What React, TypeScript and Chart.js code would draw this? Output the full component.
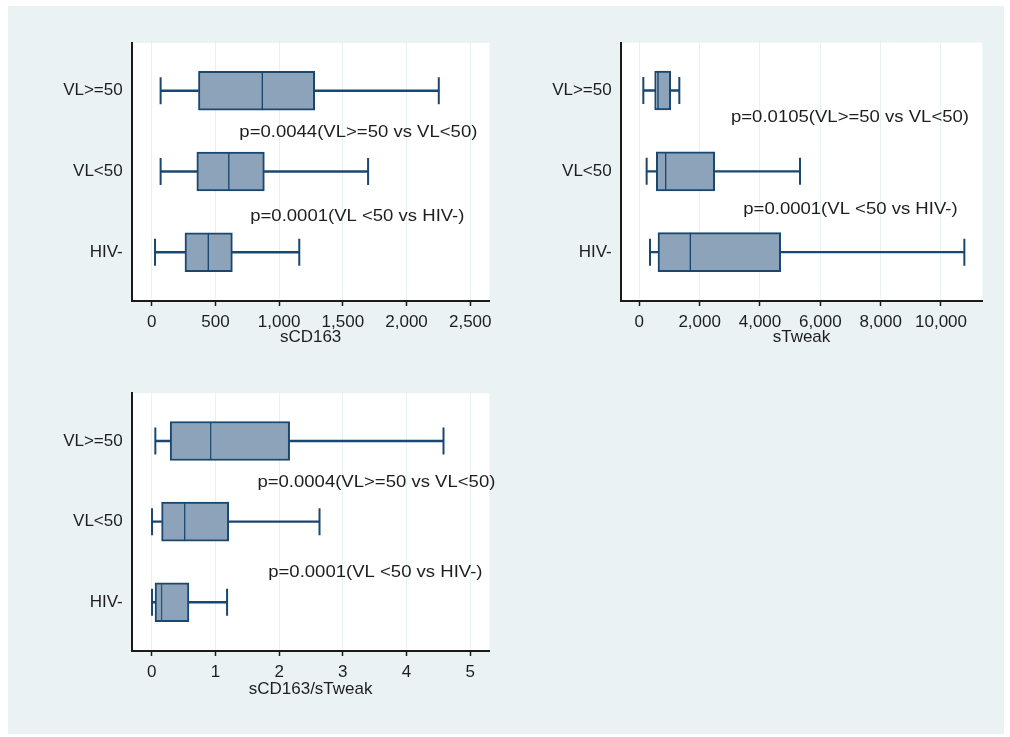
import React, { useEffect, useRef } from 'react';
import { Chart, registerables } from 'chart.js';

Chart.register(...registerables);

// ---------- data ----------
const categories = ['VL>=50', 'VL<50', 'HIV-'];

const sCD163Min = [70, 70, 26];
const sCD163Q1 = [367, 354, 261];
const sCD163Median = [868, 605, 444];
const sCD163Q3 = [1279, 884, 633];
const sCD163Max = [2253, 1698, 1158];
const sCD163Ticks = [0, 500, 1000, 1500, 2000, 2500];
const sCD163Notes = ['p=0.0044(VL>=50 vs VL<50)', 'p=0.0001(VL <50 vs HIV-)'];

const sTweakMin = [133, 243, 354];
const sTweakQ1 = [508, 564, 619];
const sTweakMedian = [619, 873, 1691];
const sTweakQ3 = [1039, 2497, 4685];
const sTweakMax = [1326, 5326, 10774];
const sTweakTicks = [0, 2000, 4000, 6000, 8000, 10000];
const sTweakNotes = ['p=0.0105(VL>=50 vs VL<50)', 'p=0.0001(VL <50 vs HIV-)'];

const ratioMin = [0.057, 0.005, 0.005];
const ratioQ1 = [0.29, 0.155, 0.052];
const ratioMedian = [0.925, 0.517, 0.155];
const ratioQ3 = [2.165, 1.209, 0.584];
const ratioMax = [4.58, 2.634, 1.183];
const ratioTicks = [0, 1, 2, 3, 4, 5];
const ratioNotes = ['p=0.0004(VL>=50 vs VL<50)', 'p=0.0001(VL <50 vs HIV-)'];

// ---------- style ----------
const NAVY = '#1a476f';
const FILL = '#8da3ba';
const AXIS = '#1a1a1a';
const TEXT = '#1e1e1e';
const GRID = '#e8f0f2';
const BG = '#eaf2f3';
const FONT = '"Liberation Sans", Arial, sans-serif';

const plotBg = {
  id: 'plotBg',
  beforeDraw(chart: any) {
    const { ctx, chartArea } = chart;
    ctx.save();
    ctx.fillStyle = '#ffffff';
    ctx.fillRect(chartArea.left, chartArea.top, chartArea.right - chartArea.left, chartArea.bottom - chartArea.top);
    ctx.restore();
  },
};

const notesPlugin = {
  id: 'notes',
  afterDatasetsDraw(chart: any, _args: any, opts: any) {
    const { ctx } = chart;
    const xs = chart.scales.x;
    const ys = chart.scales.y;
    (opts.items || []).forEach((n: any) => {
      const px = xs.getPixelForValue(n.x);
      const py = ys.getPixelForValue(n.y);
      ctx.save();
      ctx.font = `17px ${FONT}`;
      ctx.fillStyle = TEXT;
      ctx.textAlign = 'left';
      ctx.textBaseline = 'middle';
      ctx.translate(px, py);
      ctx.scale(1.09, 1);
      ctx.fillText(n.text, 0, 0);
      ctx.restore();
    });
  },
};

type PanelCfg = {
  left: number; top: number; width: number; height: number;
  padTop: number; padRight: number; yAxisWidth: number; xAxisHeight: number;
  xMin: number; xMax: number; ticks: number[]; title: string;
  min: number[]; q1: number[]; med: number[]; q3: number[]; max: number[];
  notes: { text: string; x: number; y: number }[];
};

const panels: PanelCfg[] = [
  {
    left: 8, top: 6, width: 497, height: 342,
    padTop: 37, padRight: 11, yAxisWidth: 123.7, xAxisHeight: 47,
    xMin: -157, xMax: 2651, ticks: sCD163Ticks, title: 'sCD163',
    min: sCD163Min, q1: sCD163Q1, med: sCD163Median, q3: sCD163Q3, max: sCD163Max,
    notes: [
      { text: sCD163Notes[0], x: 688, y: 1.52 },
      { text: sCD163Notes[1], x: 773, y: 2.554 },
    ],
  },
  {
    left: 505, top: 6, width: 499, height: 342,
    padTop: 36.7, padRight: 21.7, yAxisWidth: 115.7, xAxisHeight: 47,
    xMin: -617, xMax: 11369, ticks: sTweakTicks, title: 'sTweak',
    min: sTweakMin, q1: sTweakQ1, med: sTweakMedian, q3: sTweakQ3, max: sTweakMax,
    notes: [
      { text: sTweakNotes[0], x: 3039, y: 1.33 },
      { text: sTweakNotes[1], x: 3447, y: 2.47 },
    ],
  },
  {
    left: 8, top: 370, width: 497, height: 330,
    padTop: 23.3, padRight: 11, yAxisWidth: 123.7, xAxisHeight: 49,
    xMin: -0.314, xMax: 5.302, ticks: ratioTicks, title: 'sCD163/sTweak',
    min: ratioMin, q1: ratioQ1, med: ratioMedian, q3: ratioQ3, max: ratioMax,
    notes: [
      { text: ratioNotes[0], x: 1.659, y: 1.517 },
      { text: ratioNotes[1], x: 1.829, y: 2.628 },
    ],
  },
];

function buildConfig(p: PanelCfg): any {
  const rows = categories.map((_, i) => i + 1);
  const lowW = rows.map((r, i) => ({ x: [p.min[i], p.q1[i]], y: r }));
  const highW = rows.map((r, i) => ({ x: [p.q3[i], p.max[i]], y: r }));
  const lowBox = rows.map((r, i) => ({ x: [p.q1[i], p.med[i]], y: r }));
  const highBox = rows.map((r, i) => ({ x: [p.med[i], p.q3[i]], y: r }));
  const caps = rows.flatMap((r, i) => [{ x: p.min[i], y: r }, { x: p.max[i], y: r }]);

  const whisker = {
    type: 'bar', barThickness: 1.7, backgroundColor: NAVY, borderWidth: 0, grouped: false,
  };
  const box = {
    type: 'bar', barThickness: 39, backgroundColor: FILL, borderColor: NAVY,
    borderSkipped: false, grouped: false,
  };

  return {
    type: 'bar',
    data: {
      datasets: [
        {
          type: 'scatter', data: caps, pointStyle: 'line', pointRotation: 90,
          pointRadius: 13.5, pointHoverRadius: 13.5, pointBorderWidth: 2,
          pointBorderColor: NAVY, borderColor: NAVY, showLine: false,
        },
        { ...box, data: lowBox, borderWidth: { top: 2, bottom: 2, left: 2, right: 1 } },
        { ...box, data: highBox, borderWidth: { top: 2, bottom: 2, left: 1, right: 2 } },
        { ...whisker, data: lowW },
        { ...whisker, data: highW },
      ],
    },
    plugins: [plotBg, notesPlugin],
    options: {
      animation: false,
      responsive: false,
      indexAxis: 'y',
      events: [],
      layout: { padding: { top: p.padTop, right: p.padRight, left: 0, bottom: 0 } },
      plugins: {
        legend: { display: false },
        tooltip: { enabled: false },
        notes: { items: p.notes },
      },
      scales: {
        y: {
          type: 'linear',
          reverse: true,
          offset: false,
          min: 0.409,
          max: 3.604,
          afterBuildTicks: (axis: any) => {
            axis.ticks = rows.map((v) => ({ value: v }));
          },
          afterFit: (axis: any) => { axis.width = p.yAxisWidth; },
          grid: { display: false, drawTicks: false, offset: false },
          border: { display: true, color: AXIS, width: 2 },
          ticks: {
            padding: 9,
            color: TEXT,
            font: { family: FONT, size: 17 },
            callback: (v: any) => categories[Math.round(v) - 1] ?? '',
          },
        },
        x: {
          type: 'linear',
          offset: false,
          min: p.xMin,
          max: p.xMax,
          afterBuildTicks: (axis: any) => {
            axis.ticks = p.ticks.map((v) => ({ value: v }));
          },
          afterFit: (axis: any) => { axis.height = p.xAxisHeight; },
          grid: {
            display: true, color: GRID, lineWidth: 1, drawTicks: true,
            tickLength: 5, tickColor: AXIS, tickWidth: 1.5, offset: false,
          },
          border: { display: true, color: AXIS, width: 2 },
          ticks: {
            padding: 6,
            color: TEXT,
            maxRotation: 0,
            autoSkip: false,
            font: { family: FONT, size: 17 },
            callback: (v: any) => Number(v).toLocaleString('en-US'),
          },
          title: {
            display: true,
            text: p.title,
            color: TEXT,
            padding: 0,
            font: { family: FONT, size: 17 },
          },
        },
      },
    },
  };
}

function Panel({ cfg }: { cfg: PanelCfg }) {
  const ref = useRef<HTMLCanvasElement>(null);
  useEffect(() => {
    if (!ref.current) return;
    const chart = new Chart(ref.current, buildConfig(cfg));
    return () => chart.destroy();
  }, [cfg]);
  return (
    <canvas
      ref={ref}
      width={cfg.width}
      height={cfg.height}
      style={{ position: 'absolute', left: cfg.left, top: cfg.top, width: cfg.width, height: cfg.height }}
    />
  );
}

export default function App() {
  useEffect(() => {
    document.body.style.margin = '0';
    document.body.style.background = '#ffffff';
  }, []);
  return (
    <div style={{ position: 'relative', width: 1010, height: 737, background: '#ffffff', overflow: 'hidden' }}>
      <div style={{ position: 'absolute', left: 8, top: 6, width: 996, height: 728, background: BG }} />
      {panels.map((p, i) => (
        <Panel key={i} cfg={p} />
      ))}
    </div>
  );
}
